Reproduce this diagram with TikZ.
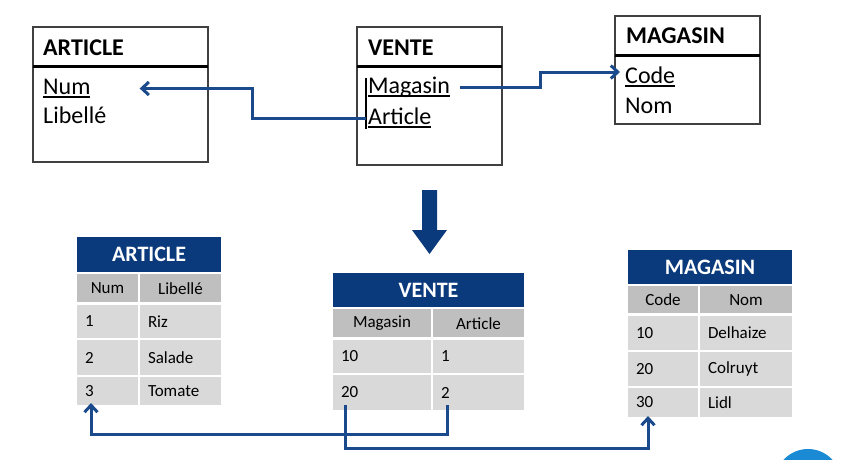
\documentclass[tikz,border=0pt]{standalone}
\usepackage{fontspec}
\setmainfont{Carlito}
\usetikzlibrary{arrows.meta,calc}
\definecolor{hdrblue}{HTML}{0B3A7C}
\definecolor{lnblue}{HTML}{1B4A8C}
\definecolor{colgray}{HTML}{BFBFBF}
\definecolor{rowgray}{HTML}{D9D9D9}
\definecolor{boxgray}{HTML}{404040}
\definecolor{dotblue}{HTML}{1A8AD4}
\newcommand\ulbox[1]{\setbox0\hbox{#1}\rlap{\rule[-3.5pt]{\wd0}{1.3pt}}\box0}
\newcommand\tcell[8]{\node[#2,minimum width=#5pt,minimum height=#6pt,text width=#7pt] (#1) at (#3,#4) {#8};}
\begin{document}
\begin{tikzpicture}[x=1pt,y=-1pt,
  erbox/.style={draw=boxgray,line width=1.5pt,anchor=north west,inner sep=0,outer sep=0},
  erdiv/.style={line width=3pt,black},
  ertitle/.style={anchor=base west,inner sep=0,font=\fontsize{24}{28}\selectfont\bfseries},
  erfield/.style={anchor=base west,inner sep=0,font=\fontsize{24}{28}\selectfont,text height=16pt,text depth=5pt},
  conn/.style={draw=lnblue,line width=3pt},
  tip/.style={-{Straight Barb[length=7pt,width=13pt]}},
  cell/.style={anchor=north west,draw=white,line width=2.5pt,inner xsep=9pt,inner ysep=0pt,outer sep=0pt,font=\fontsize{17}{20}\selectfont,align=left},
  hdr/.style={cell,fill=hdrblue,text=white,font=\fontsize{22}{26}\selectfont\bfseries,align=center},
  colh/.style={cell,fill=colgray,align=center},
  rowc/.style={cell,fill=rowgray}]
\useasboundingbox (0,0) rectangle (859,459);

% ---------- top ER diagram ----------
\node[erbox,minimum width=175pt,minimum height=135pt] (eA) at (33,27) {};
\draw[erdiv] (33,66) -- (208,66);
\node[ertitle] (eAt) at (43,55) {ARTICLE};
\node[erfield] (aNum) at (43,94) {\ulbox{Num}};
\node[erfield] (aLib) at (43,123) {Libellé};

\node[erbox,minimum width=145pt,minimum height=138pt] (eV) at (357,27) {};
\draw[erdiv] (357,66) -- (502,66);
\node[ertitle] (eVt) at (368,55) {VENTE};
\node[erfield] (vMag) at (368,93) {\ulbox{Magasin}};
\node[erfield] (vArt) at (368,124) {\ulbox{Article}};
\draw[line width=1.3pt,black] ([xshift=-2pt,yshift=-1pt]vMag.north west) -- ([xshift=-2pt]vArt.south west);

\node[erbox,minimum width=145pt,minimum height=108pt] (eM) at (615,16) {};
\draw[erdiv] (615,55) -- (760,55);
\node[ertitle] (eMt) at (626,43) {MAGASIN};
\node[erfield] (mCode) at (625,83) {\ulbox{Code}};
\node[erfield] (mNom) at (625,113) {Nom};

\draw[conn,tip] ([xshift=-2pt]vArt.west) -- ++(-114,0) |- ([xshift=49pt,yshift=0pt]aNum.east);
\draw[conn,tip] ([xshift=10pt]vMag.east) -- ++(80,0) |- ([xshift=-5pt,yshift=5.5pt]mCode.west);

% ---------- big arrow ----------
\fill[hdrblue] (422,190) -- (437,190) -- (437,230) -- (447,230) -- (429.5,254) -- (412,230) -- (422,230) -- cycle;

% ---------- bottom tables ----------
% ARTICLE
\tcell{a-h}{hdr}{76}{236}{146}{37}{128}{ARTICLE}
\tcell{a-c1}{colh}{76}{273}{63}{30.5}{45}{Num}
\tcell{a-c2}{colh}{139}{273}{83}{30.5}{65}{Libellé}
\tcell{a-1-1}{rowc}{76}{303.5}{63}{35.5}{45}{1}
\tcell{a-1-2}{rowc}{139}{303.5}{83}{35.5}{65}{Riz}
\tcell{a-2-1}{rowc}{76}{339}{63}{37}{45}{2}
\tcell{a-2-2}{rowc}{139}{339}{83}{37}{65}{Salade}
\tcell{a-3-1}{rowc}{76}{376}{63}{30}{45}{3}
\tcell{a-3-2}{rowc}{139}{376}{83}{30}{65}{Tomate}

% VENTE
\tcell{v-h}{hdr}{332}{272}{193}{36}{175}{VENTE}
\tcell{v-c1}{colh}{332}{308}{100}{30.5}{82}{Magasin}
\tcell{v-c2}{colh}{432}{308}{93}{30.5}{75}{Article}
\tcell{v-1-1}{rowc}{332}{338.5}{100}{35.5}{82}{10}
\tcell{v-1-2}{rowc}{432}{338.5}{93}{35.5}{75}{1}
\tcell{v-2-1}{rowc}{332}{374}{100}{37}{82}{20}
\tcell{v-2-2}{rowc}{432}{374}{93}{37}{75}{2}

% MAGASIN
\tcell{m-h}{hdr}{627}{249}{166}{36}{148}{MAGASIN}
\tcell{m-c1}{colh}{627}{285}{72}{29.5}{54}{Code}
\tcell{m-c2}{colh}{699}{285}{94}{29.5}{76}{Nom}
\tcell{m-1-1}{rowc}{627}{314.5}{72}{36.5}{54}{10}
\tcell{m-1-2}{rowc}{699}{314.5}{94}{36.5}{76}{Delhaize}
\tcell{m-2-1}{rowc}{627}{351}{72}{36}{54}{20}
\tcell{m-2-2}{rowc}{699}{351}{94}{36}{76}{Colruyt}
\tcell{m-3-1}{rowc}{627}{387}{72}{31}{54}{30}
\tcell{m-3-2}{rowc}{699}{387}{94}{31}{76}{Lidl}

% bottom connectors
\draw[conn,tip] ([xshift=15pt,yshift=6pt]v-2-2.south west) -- ++(0,29) -| ([xshift=15pt,yshift=3pt]a-3-1.south west);
\draw[conn,tip] ([xshift=13pt,yshift=6pt]v-2-1.south west) -- ++(0,43) -| ([xshift=21pt,yshift=2pt]m-3-1.south west);

% ---------- corner disc ----------
\begin{scope}
\clip (0,0) rectangle (859,459);
\fill[dotblue] (808,482) circle[radius=33];
\end{scope}
\end{tikzpicture}
\end{document}
